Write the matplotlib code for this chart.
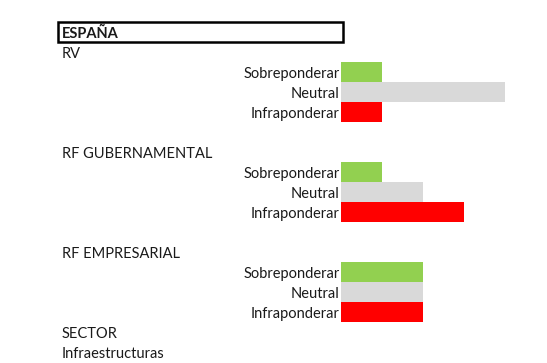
import matplotlib
matplotlib.use("Agg")
import matplotlib.pyplot as plt
from matplotlib.patches import Rectangle

# Data
title = "ESPAÑA"
groups = ["RV", "RF GUBERNAMENTAL", "RF EMPRESARIAL"]
categories = ["Sobreponderar", "Neutral", "Infraponderar"]
values = {
    "RV": [1, 4, 1],
    "RF GUBERNAMENTAL": [1, 2, 3],
    "RF EMPRESARIAL": [2, 2, 2],
}
colors = ["#92d050", "#d9d9d9", "#ff0000"]
footer = ["SECTOR", "Infraestructuras"]

W, H = 547, 363
fig = plt.figure(figsize=(W / 100, H / 100), dpi=100)
ax = fig.add_axes([0, 0, 1, 1])
x0px, unit = 341, 41
ax.set_xlim(-x0px / unit, (W - x0px) / unit)
row0, rowh = 32, 20
ax.set_ylim((H - row0) / rowh, -row0 / rowh)
ax.axis("off")

font = dict(family="Lato", fontsize=10.5, color="#1a1a1a")
label_x = (62 - x0px) / unit
dy = 0.1  # text sits slightly low in cells (bottom-aligned like a spreadsheet)

# Title box
ax.add_patch(Rectangle(((58 - x0px) / unit, -0.5), (343 - 58) / unit, 1.0,
                       fill=False, edgecolor="black", linewidth=1.8))
ax.text(label_x, 0 + dy, title, ha="left", va="center", fontweight="bold", **font)

row = 1
for g in groups:
    ax.text(label_x, row + dy, g, ha="left", va="center", **font)
    ys = [row + 1 + i for i in range(len(categories))]
    ax.barh(ys, values[g], height=1.0, left=0, color=colors, linewidth=0)
    for y, c in zip(ys, categories):
        ax.text(-0.03, y + dy, c, ha="right", va="center", **font)
    row += 5
row -= 1
for t in footer:
    ax.text(label_x, row + dy, t, ha="left", va="center", **font)
    row += 1

fig.savefig("out.png", dpi=100, facecolor="white")
